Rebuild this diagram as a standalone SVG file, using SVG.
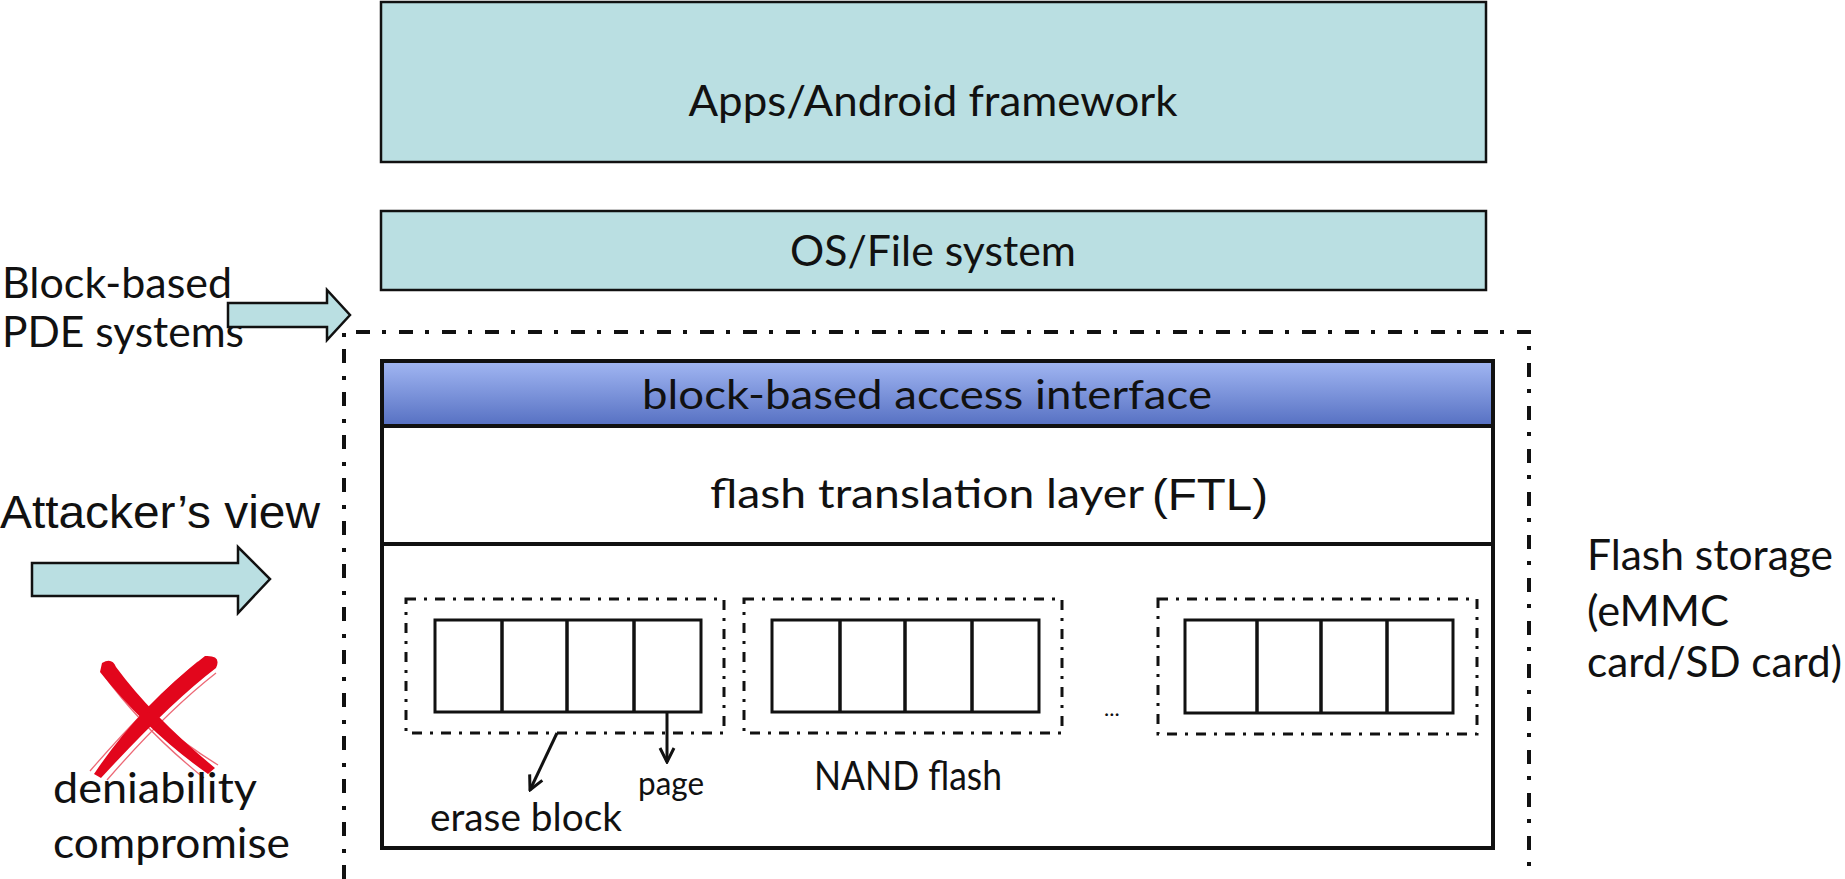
<svg xmlns="http://www.w3.org/2000/svg" width="1845" height="879" viewBox="0 0 1845 879">
<defs>
<linearGradient id="hdr" x1="0" y1="0" x2="0" y2="1">
<stop offset="0" stop-color="#a2b7f3"/>
<stop offset="1" stop-color="#5670c2"/>
</linearGradient>
<marker id="vhead" viewBox="0 0 20 20" refX="18" refY="10" markerWidth="20" markerHeight="20" markerUnits="userSpaceOnUse" orient="auto">
<path d="M4,3 L18,10 L4,17" fill="none" stroke="#111" stroke-width="3"/>
</marker>
</defs>
<style>
.teal{fill:#badfe2;stroke:#111;stroke-width:2.5}
.cal{font-family:Lato,"Open Sans","Liberation Sans",sans-serif;fill:#111}
.ari{font-family:"Liberation Sans",Arial,sans-serif;fill:#111}
.outer{fill:none;stroke:#111;stroke-width:4;stroke-dasharray:14 12 4 13}
.frame{fill:none;stroke:#111;stroke-width:3;stroke-dasharray:10 8 3 8}
.pages{fill:#fff;stroke:#111;stroke-width:3}
.div{stroke:#111;stroke-width:3.5}
.solid{fill:none;stroke:#111;stroke-width:4}
.conn{fill:none;stroke:#111;stroke-width:3;marker-end:url(#vhead)}
</style>
<rect width="1845" height="879" fill="#fff"/>

<g id="apps">
<rect class="teal" x="381" y="2" width="1105" height="160"/>
<text class="cal" x="933" y="116" font-size="43" text-anchor="middle" textLength="489" lengthAdjust="spacingAndGlyphs">Apps/Android framework</text>
</g>

<g id="os">
<rect class="teal" x="381" y="211" width="1105" height="79"/>
<text class="cal" x="933" y="266" font-size="43" text-anchor="middle" textLength="286" lengthAdjust="spacingAndGlyphs">OS/File system</text>
</g>

<g id="flash-storage-boundary">
<path class="outer" d="M344,879 V332 H1529 V879"/>
</g>

<g id="device">
<rect x="382" y="361" width="1111" height="487" fill="#fff"/>
<rect x="382" y="361" width="1111" height="65" fill="url(#hdr)"/>
<line class="solid" x1="382" y1="426" x2="1493" y2="426"/>
<line class="solid" x1="382" y1="544" x2="1493" y2="544"/>
<rect class="solid" x="382" y="361" width="1111" height="487"/>
</g>

<g id="interface">
<text class="cal" x="927" y="409" font-size="41" text-anchor="middle" textLength="570" lengthAdjust="spacingAndGlyphs">block-based access interface</text>
</g>

<g id="ftl">
<text class="cal" x="710" y="508" font-size="40" textLength="434" lengthAdjust="spacingAndGlyphs">flash translation layer</text>
<text class="ari" x="1152" y="510" font-size="44" textLength="116" lengthAdjust="spacingAndGlyphs">(FTL)</text>
</g>

<g id="block1">
<rect class="frame" x="406" y="599" width="318" height="134"/>
<rect class="pages" x="435" y="620" width="266" height="92"/>
<line class="div" x1="502" y1="620" x2="502" y2="712"/>
<line class="div" x1="567" y1="620" x2="567" y2="712"/>
<line class="div" x1="634" y1="620" x2="634" y2="712"/>
</g>

<g id="block2">
<rect class="frame" x="744" y="599" width="318" height="134"/>
<rect class="pages" x="772" y="620" width="267" height="92"/>
<line class="div" x1="840" y1="620" x2="840" y2="712"/>
<line class="div" x1="905" y1="620" x2="905" y2="712"/>
<line class="div" x1="972" y1="620" x2="972" y2="712"/>
</g>

<g id="block3">
<rect class="frame" x="1158" y="599" width="319" height="135"/>
<rect class="pages" x="1185" y="620" width="268" height="93"/>
<line class="div" x1="1257" y1="620" x2="1257" y2="713"/>
<line class="div" x1="1321" y1="620" x2="1321" y2="713"/>
<line class="div" x1="1387" y1="620" x2="1387" y2="713"/>
</g>

<g id="ellipsis">
<text class="cal" x="1104" y="716" font-size="22">...</text>
</g>

<g id="labels">
<text class="cal" x="430" y="831" font-size="39" textLength="192" lengthAdjust="spacingAndGlyphs">erase block</text>
<text class="cal" x="638" y="795" font-size="33" textLength="66" lengthAdjust="spacingAndGlyphs">page</text>
<text class="cal" x="814" y="790" font-size="41" textLength="188" lengthAdjust="spacingAndGlyphs">NAND flash</text>
</g>

<g id="connectors">
<path class="conn" d="M557,733 L530,790"/>
<path class="conn" d="M667,712 L667,762"/>
</g>

<g id="pde-arrow">
<text class="cal" x="2" y="298" font-size="42" textLength="230" lengthAdjust="spacingAndGlyphs">Block-based</text>
<text class="cal" x="2" y="347" font-size="42" textLength="242" lengthAdjust="spacingAndGlyphs">PDE systems</text>
<path class="teal" d="M228,303 H327 V290 L350,315 L327,340 V327 H228 Z"/>
</g>

<g id="attacker-arrow">
<text class="ari" x="0" y="528" font-size="46" textLength="320" lengthAdjust="spacingAndGlyphs">Attacker’s view</text>
<path class="teal" d="M32,563 H238 V547 L270,579 L238,613 V596 H32 Z"/>
</g>

<g id="compromise">
<g fill="#e2061c">
<path d="M205,656 Q222,655 216,668 Q170,703 101,778 L94,774 Q138,708 205,656 Z"/>
<path d="M102,663 Q112,657 116,667 Q152,716 215,768 L208,774 Q148,732 100,672 Z"/>
</g>
<g stroke="#e2061c" stroke-width="1.3" fill="none" opacity="0.6">
<path d="M198,662 Q148,704 90,771"/>
<path d="M216,673 Q166,712 107,780"/>
<path d="M112,674 Q156,727 218,765"/>
<path d="M103,674 Q144,730 204,778"/>
</g>
<text class="cal" x="53" y="803" font-size="42" textLength="204" lengthAdjust="spacingAndGlyphs">deniability</text>
<text class="cal" x="53" y="858" font-size="42" textLength="237" lengthAdjust="spacingAndGlyphs">compromise</text>
</g>

<g id="flash-storage-label">
<text class="cal" x="1587" y="570" font-size="42" textLength="246" lengthAdjust="spacingAndGlyphs">Flash storage</text>
<text class="cal" x="1587" y="626" font-size="42" textLength="142" lengthAdjust="spacingAndGlyphs">(eMMC</text>
<text class="cal" x="1587" y="677" font-size="42" textLength="255" lengthAdjust="spacingAndGlyphs">card/SD card)</text>
</g>
</svg>
